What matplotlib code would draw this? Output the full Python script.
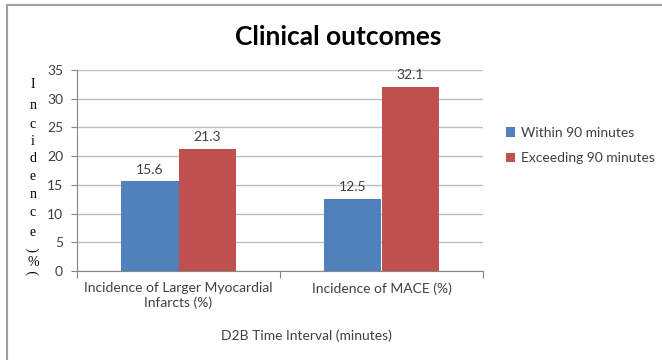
import matplotlib
matplotlib.use("Agg")
import matplotlib.pyplot as plt
import numpy as np
from matplotlib.lines import Line2D

plt.rcParams["font.family"] = ["Lato", "DejaVu Sans"]

categories = ["Incidence of Larger Myocardial\nInfarcts (%)", "Incidence of MACE (%)"]
series_names = ["Within 90 minutes", "Exceeding 90 minutes"]
within = [15.6, 12.5]
exceeding = [21.3, 32.1]
yticks = [0, 5, 10, 15, 20, 25, 30, 35]

BLUE, RED = "#4F81BD", "#C0504D"
GRID, AXIS, TEXT = "#BFBFBF", "#868686", "#404040"

W, H = 662, 360
fig = plt.figure(figsize=(W / 100, H / 100), dpi=100)
fig.patch.set_facecolor("white")
ax = fig.add_axes([77 / W, 1 - 271 / H, (483 - 77) / W, (271 - 70) / H])

x = np.arange(len(categories))
bw = 0.285
b1 = ax.bar(x - bw / 2, within, bw, color=BLUE, label=series_names[0], zorder=3)
b2 = ax.bar(x + bw / 2, exceeding, bw, color=RED, label=series_names[1], zorder=3)
for bars, vals in ((b1, within), (b2, exceeding)):
    for r, v in zip(bars, vals):
        ax.text(r.get_x() + r.get_width() / 2, v + 1.0, f"{v:.1f}", ha="center",
                va="bottom", fontsize=10, color=TEXT)

ax.set_xlim(-0.5, len(categories) - 0.5)
ax.set_ylim(0, 35)
ax.set_yticks(yticks)
ax.yaxis.grid(True, color=GRID, lw=1.0, zorder=0)
ax.tick_params(axis="y", length=4, color=AXIS, labelsize=10, labelcolor=TEXT, pad=6)
for s in ("top", "right"):
    ax.spines[s].set_visible(False)
ax.spines["left"].set_color(AXIS)
ax.spines["bottom"].set_color(AXIS)

# category boundaries get the ticks, category centres get the labels
ax.set_xticks(np.arange(-0.5, len(categories)))
ax.set_xticklabels([])
ax.tick_params(axis="x", length=5, color=AXIS)
ax.set_xticks(x, minor=True)
ax.set_xticklabels(categories, minor=True, fontsize=10, color=TEXT)
ax.tick_params(axis="x", which="minor", length=0, pad=8)

fig.text(338 / W, 1 - 37 / H, "Clinical outcomes", ha="center", va="center",
         fontsize=19, fontweight="bold", color="black")
fig.text(306 / W, 1 - 336 / H, "D2B Time Interval (minutes)", ha="center",
         va="center", fontsize=10, color=TEXT)

# stacked y-axis label
serif = ["Liberation Serif", "DejaVu Serif"]
ys = [85, 105, 125, 142, 158, 177, 195, 213, 232]
for ch, yy in zip("Incidence", ys):
    fig.text(33 / W, 1 - yy / H, ch, ha="center", va="center", fontsize=10,
             family=serif, color="black")
fig.text(33 / W, 1 - 250 / H, "(", ha="center", va="center", fontsize=10,
         family=serif, rotation=90, rotation_mode="anchor")
fig.text(33 / W, 1 - 262 / H, "%", ha="center", va="center", fontsize=10,
         family=serif)
fig.text(33 / W, 1 - 273 / H, ")", ha="center", va="center", fontsize=10,
         family=serif, rotation=90, rotation_mode="anchor")

leg = fig.legend(handles=[b1, b2], labels=series_names, loc="upper left",
                 bbox_to_anchor=(500 / W, 1 - 121 / H), frameon=False,
                 fontsize=10, handlelength=0.7, handleheight=0.7,
                 handletextpad=0.4, labelspacing=1.0, borderaxespad=0)
for t in leg.get_texts():
    t.set_color(TEXT)

# chart frame
fig.add_artist(Line2D([7 / W, 7 / W], [0, 1 - 5 / H], color="#A0A0A0", lw=1.5))
fig.add_artist(Line2D([7 / W, 1], [1 - 5 / H, 1 - 5 / H], color="#A0A0A0", lw=1.5))

fig.savefig("out.png", dpi=100, facecolor="white")
